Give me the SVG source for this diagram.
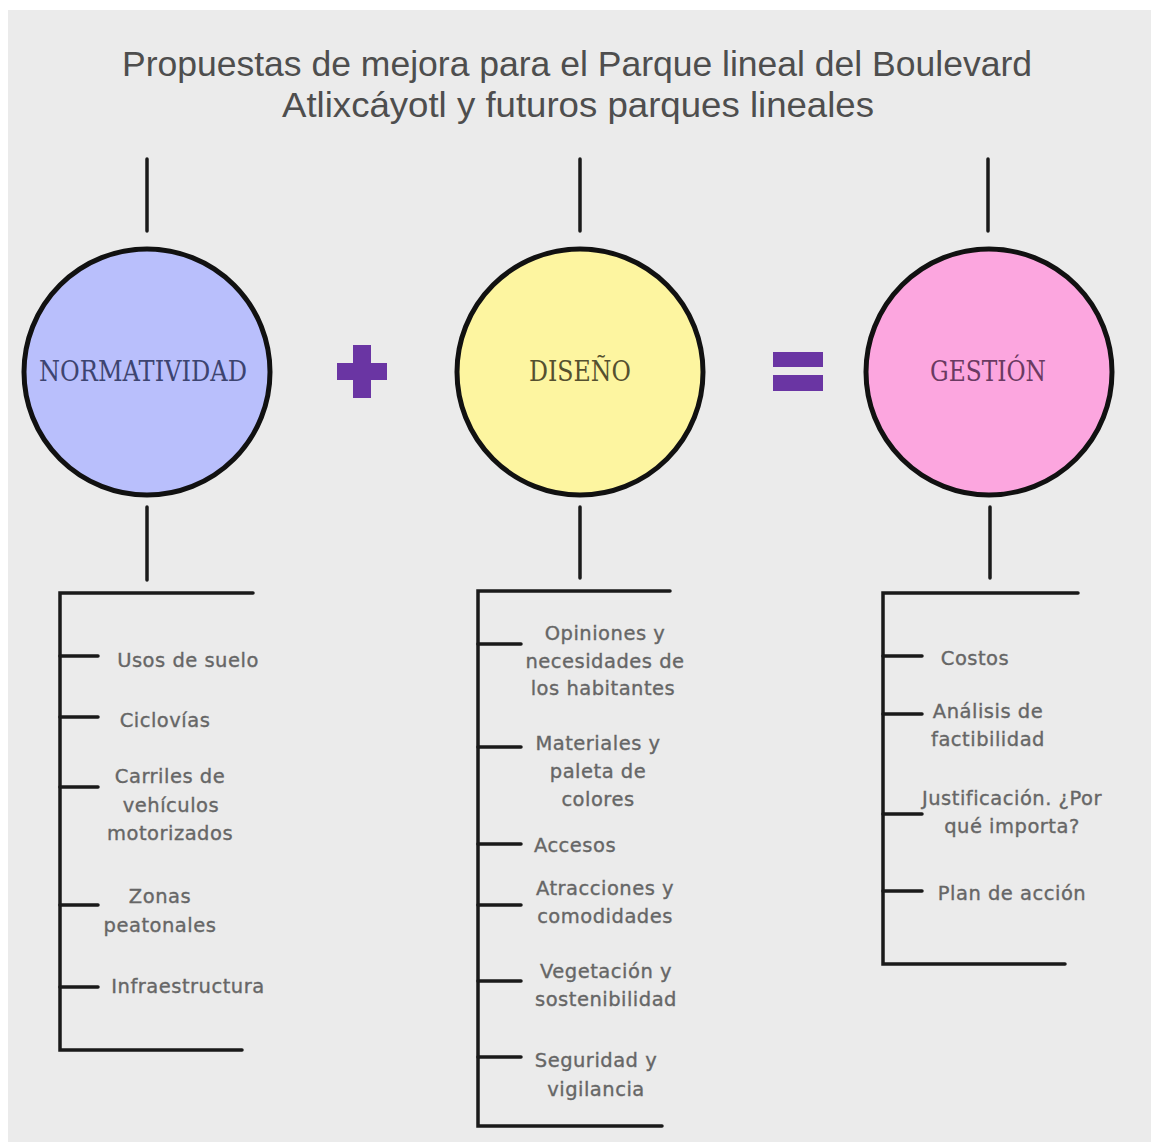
<svg xmlns="http://www.w3.org/2000/svg" width="1151" height="1143" viewBox="0 0 1151 1143">
<defs>
<style>
.bg{fill:#ebebeb}
.title{font-family:"Liberation Sans","DejaVu Sans",sans-serif;font-size:35px;fill:#4e4e4e;text-anchor:middle}
.circ{stroke:#111111;stroke-width:5}
.ctext{font-family:"DejaVu Serif","Liberation Serif",serif;font-size:28px;text-anchor:middle}
.ln{stroke:#1a1a1a;stroke-width:3.5;stroke-linecap:round;fill:none}
.item{font-family:"DejaVu Sans","Liberation Sans",sans-serif;font-size:19.5px;fill:#666666;stroke:#666666;stroke-width:0.35px;text-anchor:middle;letter-spacing:0.5px}
.op{fill:#6a35a3}
</style>
</defs>
<rect x="0" y="0" width="1151" height="1143" fill="#ffffff"/>
<rect class="bg" x="8" y="10" width="1143" height="1132"/>

<g id="title">
<text class="title" x="577" y="76" textLength="910" lengthAdjust="spacingAndGlyphs">Propuestas de mejora para el Parque lineal del Boulevard</text>
<text class="title" x="578" y="117" textLength="592" lengthAdjust="spacingAndGlyphs">Atlixcáyotl y futuros parques lineales</text>
</g>

<g id="connectors">
<line class="ln" x1="147" y1="159" x2="147" y2="231"/>
<line class="ln" x1="580" y1="159" x2="580" y2="231"/>
<line class="ln" x1="988" y1="159" x2="988" y2="231"/>
<line class="ln" x1="147" y1="507" x2="147" y2="580"/>
<line class="ln" x1="580" y1="507" x2="580" y2="578"/>
<line class="ln" x1="990" y1="507" x2="990" y2="578"/>
<path class="ln" d="M253 593 H60 V1050 H242"/>
<line class="ln" x1="60" y1="656" x2="98" y2="656"/>
<line class="ln" x1="60" y1="717" x2="98" y2="717"/>
<line class="ln" x1="60" y1="787" x2="98" y2="787"/>
<line class="ln" x1="60" y1="905" x2="98" y2="905"/>
<line class="ln" x1="60" y1="987" x2="98" y2="987"/>
<path class="ln" d="M670 591 H478 V1126 H662"/>
<line class="ln" x1="478" y1="644" x2="521" y2="644"/>
<line class="ln" x1="478" y1="747" x2="521" y2="747"/>
<line class="ln" x1="478" y1="844" x2="521" y2="844"/>
<line class="ln" x1="478" y1="905" x2="521" y2="905"/>
<line class="ln" x1="478" y1="981" x2="521" y2="981"/>
<line class="ln" x1="478" y1="1057" x2="521" y2="1057"/>
<path class="ln" d="M1078 593 H883 V964 H1065"/>
<line class="ln" x1="883" y1="656" x2="922" y2="656"/>
<line class="ln" x1="883" y1="714" x2="922" y2="714"/>
<line class="ln" x1="883" y1="814" x2="922" y2="814"/>
<line class="ln" x1="883" y1="891" x2="922" y2="891"/>
</g>

<g id="normatividad">
<circle class="circ" cx="147" cy="372" r="123" fill="#b9bffc"/>
<text class="ctext" x="143" y="381" fill="#3d4470" textLength="208" lengthAdjust="spacingAndGlyphs">NORMATIVIDAD</text>
</g>
<g id="plus">
<rect class="op" x="337" y="363" width="50" height="17"/>
<rect class="op" x="353" y="345" width="18" height="53"/>
</g>
<g id="diseno">
<circle class="circ" cx="580" cy="372" r="123" fill="#fdf5a0"/>
<text class="ctext" x="580" y="381" fill="#55502f" textLength="102" lengthAdjust="spacingAndGlyphs">DISEÑO</text>
</g>
<g id="equals">
<rect class="op" x="773" y="352" width="50" height="15"/>
<rect class="op" x="773" y="375" width="50" height="16"/>
</g>
<g id="gestion">
<circle class="circ" cx="989" cy="372" r="123" fill="#fca6df"/>
<text class="ctext" x="988" y="381" fill="#6a3a62" textLength="116" lengthAdjust="spacingAndGlyphs">GESTIÓN</text>
</g>

<g id="normatividad-items">
<text class="item" x="188" y="667">Usos de suelo</text>
<text class="item" x="165" y="727">Ciclovías</text>
<text class="item" x="170" y="783">Carriles de</text>
<text class="item" x="171" y="812">vehículos</text>
<text class="item" x="170" y="840">motorizados</text>
<text class="item" x="160" y="903">Zonas</text>
<text class="item" x="160" y="932">peatonales</text>
<text class="item" x="188" y="993">Infraestructura</text>
</g>

<g id="diseno-items">
<text class="item" x="605" y="640">Opiniones y</text>
<text class="item" x="605" y="668">necesidades de</text>
<text class="item" x="603" y="695">los habitantes</text>
<text class="item" x="598" y="750">Materiales y</text>
<text class="item" x="598" y="778">paleta de</text>
<text class="item" x="598" y="806">colores</text>
<text class="item" x="575" y="852">Accesos</text>
<text class="item" x="605" y="895">Atracciones y</text>
<text class="item" x="605" y="923">comodidades</text>
<text class="item" x="606" y="978">Vegetación y</text>
<text class="item" x="606" y="1006">sostenibilidad</text>
<text class="item" x="596" y="1067">Seguridad y</text>
<text class="item" x="596" y="1096">vigilancia</text>
</g>

<g id="gestion-items">
<text class="item" x="975" y="665">Costos</text>
<text class="item" x="988" y="718">Análisis de</text>
<text class="item" x="988" y="746">factibilidad</text>
<text class="item" x="1012" y="805">Justificación. ¿Por</text>
<text class="item" x="1012" y="833">qué importa?</text>
<text class="item" x="1012" y="900">Plan de acción</text>
</g>
</svg>
